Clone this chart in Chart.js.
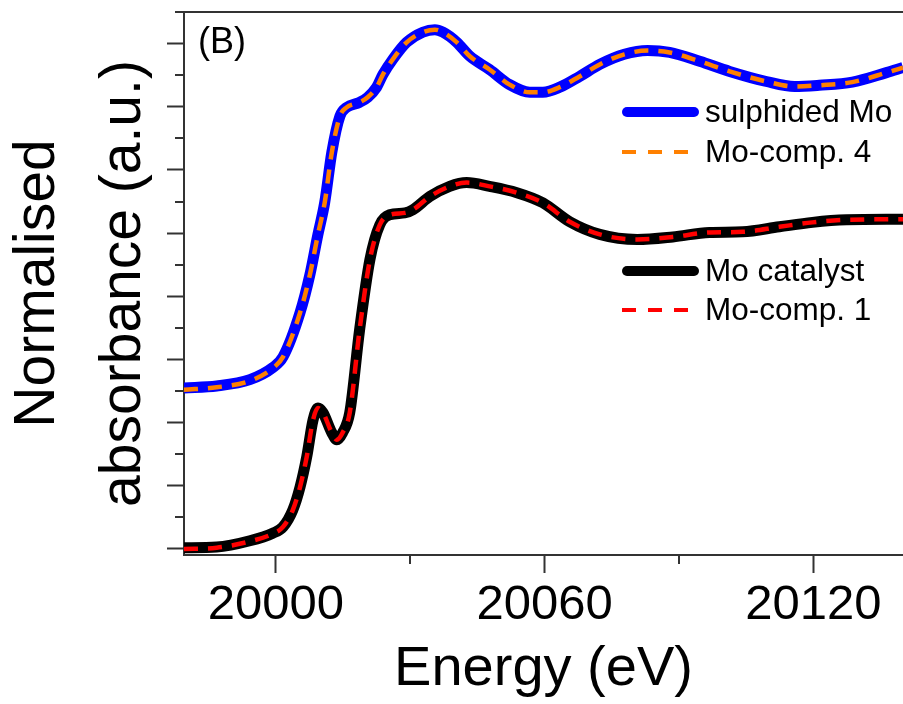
<!DOCTYPE html>
<html>
<head>
<meta charset="utf-8">
<title>Mo K-edge XANES (B)</title>
<script src="https://cdn.jsdelivr.net/npm/chart.js@4.4.1/dist/chart.umd.min.js"></script>
<style>
  html, body { margin: 0; padding: 0; background: #fff; }
  #wrap { width: 903px; height: 704px; }
</style>
</head>
<body>
<div id="wrap"><canvas id="xanesChart" width="903" height="704"></canvas></div>
<script>
// energies (eV)
const sulphidedEnergy = [19979.5, 19986.8, 19994.2, 19999.3, 20001.6, 20005.4, 20007.6, 20009.4, 20010.9, 20012.5,
  20014.3, 20015.8, 20018.7, 20020.5, 20022.5, 20023.9, 20026.1, 20029.2, 20032.8, 20035.5,
  20037.3, 20040.4, 20043.3, 20047.7, 20052.2, 20056.7, 20059.6, 20063.4, 20067.8, 20072.3,
  20077.8, 20083.0, 20087.9, 20094.6, 20101.3, 20109.5, 20115.8, 20121.3, 20128.7, 20136.3, 20140];
const sulphidedMo = [2.55, 2.58, 2.68, 2.87, 3.04, 3.74, 4.34, 4.98, 5.48, 6.28,
  6.85, 6.99, 7.07, 7.15, 7.31, 7.51, 7.75, 8.02, 8.18, 8.22,
  8.18, 8.02, 7.80, 7.59, 7.35, 7.23, 7.23, 7.31, 7.48, 7.67,
  7.83, 7.89, 7.86, 7.72, 7.56, 7.40, 7.32, 7.34, 7.39, 7.54, 7.62];
const moComp4 = [2.52, 2.56, 2.66, 2.86, 3.04, 3.74, 4.34, 4.98, 5.48, 6.28,
  6.85, 6.99, 7.07, 7.15, 7.31, 7.51, 7.75, 8.02, 8.18, 8.22,
  8.18, 8.02, 7.80, 7.59, 7.35, 7.23, 7.23, 7.31, 7.48, 7.67,
  7.83, 7.89, 7.86, 7.72, 7.56, 7.40, 7.32, 7.34, 7.39, 7.54, 7.62];

const catalystEnergy = [19979.5, 19986.8, 19994.2, 19999.3, 20001.6, 20003.8, 20005.4, 20006.9, 20008.3, 20009.4,
  20010.5, 20012.5, 20013.6, 20014.9, 20016.5, 20018.7, 20021.0, 20023.2, 20025.4, 20028.8,
  20030.6, 20034.4, 20038.8, 20042.6, 20047.7, 20053.8, 20059.6, 20065.6, 20072.3, 20080.7,
  20088.6, 20096.8, 20104.2, 20112.4, 20119.8, 20127.4, 20140];
const moCatalyst = [0.02, 0.03, 0.13, 0.25, 0.35, 0.62, 0.98, 1.46, 2.04, 2.23,
  2.16, 1.84, 1.73, 1.84, 2.16, 3.47, 4.58, 5.13, 5.29, 5.32,
  5.37, 5.58, 5.74, 5.80, 5.74, 5.64, 5.48, 5.18, 4.98, 4.90,
  4.94, 5.01, 5.02, 5.10, 5.17, 5.21, 5.22];
const moComp1 = [0.00, 0.02, 0.12, 0.24, 0.35, 0.62, 0.98, 1.46, 2.04, 2.23,
  2.16, 1.84, 1.73, 1.84, 2.16, 3.47, 4.58, 5.13, 5.29, 5.32,
  5.37, 5.58, 5.74, 5.80, 5.74, 5.64, 5.48, 5.18, 4.98, 4.90,
  4.94, 5.01, 5.02, 5.10, 5.17, 5.21, 5.22];

// axis ticks
const xMajorTicks = [20000, 20060, 20120];
const xTickLabels = ['20000', '20060', '20120'];
const xMinorTicks = [20030, 20090];
const yMajorTicks = [0, 1, 2, 3, 4, 5, 6, 7, 8];
const yMinorTicks = [0.5, 1.5, 2.5, 3.5, 4.5, 5.5, 6.5, 7.5, 8.5];

const FONT = '"Liberation Sans", Arial, sans-serif';
const axisColor = '#333333';

function toPoints(xs, ys) {
  return xs.map((x, i) => ({ x: x, y: ys[i] }));
}

// minor ticks, top frame line, the two legend groups and the panel letter
const decorPlugin = {
  id: 'decor',
  afterDraw(chart) {
    const ctx = chart.ctx;
    const area = chart.chartArea;
    const xs = chart.scales.x;
    const ys = chart.scales.y;
    ctx.save();
    ctx.strokeStyle = axisColor;
    ctx.lineWidth = 2;
    ctx.beginPath();
    ctx.moveTo(area.left - 9, area.top);
    ctx.lineTo(area.right, area.top);
    xMinorTicks.forEach(v => {
      const px = Math.round(xs.getPixelForValue(v));
      ctx.moveTo(px, area.bottom);
      ctx.lineTo(px, area.bottom + 9);
    });
    yMinorTicks.forEach(v => {
      const py = Math.round(ys.getPixelForValue(v));
      ctx.moveTo(area.left - 9, py);
      ctx.lineTo(area.left, py);
    });
    ctx.stroke();

    // legend
    const rows = [
      { ds: 1, y: 112 },
      { ds: 0, y: 152 },
      { ds: 3, y: 271 },
      { ds: 2, y: 310 }
    ];
    ctx.font = '31.5px ' + FONT;
    ctx.textBaseline = 'middle';
    ctx.textAlign = 'left';
    rows.forEach(r => {
      const d = chart.data.datasets[r.ds];
      const dashed = !!d.borderDash;
      ctx.save();
      ctx.strokeStyle = d.borderColor;
      ctx.lineWidth = d.legendWidth;
      ctx.lineCap = dashed ? 'butt' : 'round';
      ctx.setLineDash(dashed ? [14, 12] : []);
      ctx.beginPath();
      ctx.moveTo(dashed ? 622 : 627, r.y);
      ctx.lineTo(dashed ? 698 : 694, r.y);
      ctx.stroke();
      ctx.restore();
      ctx.fillStyle = '#000';
      ctx.fillText(d.label, 705, r.y + 1);
    });

    ctx.font = '36px ' + FONT;
    ctx.fillText('(B)', 198, 43);
    ctx.restore();
  }
};

const ctx = document.getElementById('xanesChart').getContext('2d');
new Chart(ctx, {
  type: 'line',
  data: {
    datasets: [
      {
        label: 'Mo-comp. 4',
        data: toPoints(sulphidedEnergy, moComp4),
        borderColor: '#FF8000',
        borderWidth: 4.5,
        borderDash: [14, 10],
        legendWidth: 4
      },
      {
        label: 'sulphided Mo',
        data: toPoints(sulphidedEnergy, sulphidedMo),
        borderColor: '#0000FF',
        borderWidth: 11,
        legendWidth: 10
      },
      {
        label: 'Mo-comp. 1',
        data: toPoints(catalystEnergy, moComp1),
        borderColor: '#FF0000',
        borderWidth: 4.5,
        borderDash: [14, 10],
        legendWidth: 4
      },
      {
        label: 'Mo catalyst',
        data: toPoints(catalystEnergy, moCatalyst),
        borderColor: '#000000',
        borderWidth: 11,
        legendWidth: 10
      }
    ]
  },
  options: {
    responsive: false,
    animation: false,
    devicePixelRatio: 1,
    layout: { padding: { top: 12, right: 0, left: 0, bottom: 0 } },
    elements: {
      point: { radius: 0 },
      line: { cubicInterpolationMode: 'monotone', borderJoinStyle: 'round', fill: false }
    },
    plugins: {
      legend: { display: false },
      tooltip: { enabled: false }
    },
    scales: {
      x: {
        type: 'linear',
        min: 19979.5,
        max: 20140,
        afterBuildTicks: s => { s.ticks = xMajorTicks.map(v => ({ value: v })); },
        afterFit: s => { s.height = 149; },
        ticks: {
          autoSkip: false,
          maxRotation: 0,
          padding: 3,
          color: '#000',
          font: { family: FONT, size: 49 },
          callback: (value, index) => xTickLabels[index]
        },
        grid: {
          drawOnChartArea: false,
          tickLength: 18,
          tickWidth: 2,
          tickColor: axisColor
        },
        border: { color: axisColor, width: 2 },
        title: {
          display: true,
          text: 'Energy (eV)',
          color: '#000',
          font: { family: FONT, size: 56, lineHeight: 1.2 },
          padding: { top: 0, bottom: 1 }
        }
      },
      y: {
        min: -0.095,
        max: 8.5,
        afterBuildTicks: s => { s.ticks = yMajorTicks.map(v => ({ value: v })); },
        afterFit: s => { s.width = 184; },
        ticks: { display: false },
        grid: {
          drawOnChartArea: false,
          tickLength: 17,
          tickWidth: 2,
          tickColor: axisColor
        },
        border: { color: axisColor, width: 2 },
        title: {
          display: true,
          text: ['Normalised', 'absorbance (a.u.)'],
          color: '#000',
          font: { family: FONT, size: 57, lineHeight: 1.5 },
          padding: { top: -4, bottom: 0 }
        }
      }
    }
  },
  plugins: [decorPlugin]
});
</script>
</body>
</html>
